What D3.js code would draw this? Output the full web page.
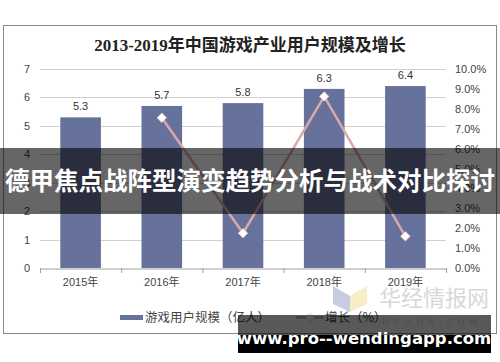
<!DOCTYPE html>
<html>
<head>
<meta charset="utf-8">
<script src="https://cdn.jsdelivr.net/npm/d3@7"></script>
<style>
  body { margin: 0; background: #fff; }
  svg { display: block; }
</style>
</head>
<body>
<svg id="chart" width="500" height="362"></svg>
<script>
const years = ["2015年", "2016年", "2017年", "2018年", "2019年"]
const users = [5.3, 5.7, 5.8, 6.3, 6.4]
const growth = [null, 7.55, 1.75, 8.62, 1.59]
const leftTicks = [0, 1, 2, 3, 4, 5, 6, 7]
const rightTicks = [0, 1, 2, 3, 4, 5, 6, 7, 8, 9, 10]

const svg = d3.select("#chart")
const sans = "'Liberation Sans', Arial, 'Noto Sans CJK SC', sans-serif"
const cjk = "'Noto Sans CJK SC', sans-serif"

// frame
svg.append("rect")
    .attr("x", 3.5).attr("y", 25.5)
    .attr("width", 493).attr("height", 308)
    .attr("fill", "#fff")
    .attr("stroke", "#8a8a8a")

svg.append("text")
    .attr("x", 250).attr("y", 51)
    .attr("text-anchor", "middle")
    .attr("font-family", "'Liberation Serif', 'Noto Sans CJK SC', serif")
    .attr("font-weight", "bold")
    .attr("font-size", 17)
    .attr("fill", "#222")
    .text("2013-2019年中国游戏产业用户规模及增长")

const x = d3.scaleBand().domain(years).range([40, 446]).paddingInner(0.5).paddingOuter(0.25)
const yL = d3.scaleLinear().domain([0, 7]).range([268, 69])
const yR = d3.scaleLinear().domain([0, 10]).range([268, 69])

// grid
svg.append("g").selectAll("line")
    .data(leftTicks.slice(1))
    .join("line")
    .attr("x1", 40).attr("x2", 446)
    .attr("y1", d => Math.round(yL(d)) + 0.5)
    .attr("y2", d => Math.round(yL(d)) + 0.5)
    .attr("stroke", "#d0d0d0")

// left axis labels
svg.append("g").selectAll("text")
    .data(leftTicks)
    .join("text")
    .attr("x", 27).attr("y", d => yL(d) + 4)
    .attr("text-anchor", "middle")
    .attr("font-family", sans).attr("font-size", 11)
    .attr("fill", "#444")
    .text(d => d)

// right axis labels
svg.append("g").selectAll("text")
    .data(rightTicks)
    .join("text")
    .attr("x", 455).attr("y", d => yR(d) + 4)
    .attr("font-family", sans).attr("font-size", 11)
    .attr("fill", "#444")
    .text(d => d.toFixed(1) + "%")

// bars
svg.append("g").selectAll("rect")
    .data(users)
    .join("rect")
    .attr("x", (d, i) => x(years[i]))
    .attr("y", d => yL(d))
    .attr("width", x.bandwidth())
    .attr("height", d => yL(0) - yL(d))
    .attr("fill", "#66729b")

svg.append("g").selectAll("text")
    .data(users)
    .join("text")
    .attr("x", (d, i) => x(years[i]) + x.bandwidth() / 2)
    .attr("y", d => yL(d) - 7)
    .attr("text-anchor", "middle")
    .attr("font-family", sans).attr("font-size", 11)
    .attr("fill", "#333")
    .text(d => d.toFixed(1))

// x axis
const xAxis = d3.axisBottom(x).tickSize(0).tickPadding(10)
const gx = svg.append("g").attr("transform", "translate(0,268.5)").call(xAxis)
gx.select(".domain").attr("stroke", "#a0a0a0")
gx.selectAll("text").attr("font-family", sans).attr("font-size", 11).attr("fill", "#444")
const step = x.step()
svg.append("g").selectAll("line")
    .data(d3.range(years.length + 1))
    .join("line")
    .attr("x1", i => 40 + i * step + 0.5).attr("x2", i => 40 + i * step + 0.5)
    .attr("y1", 268).attr("y2", 273)
    .attr("stroke", "#a0a0a0")

// growth line
const pts = growth.map((g, i) => g == null ? null : [x(years[i]) + x.bandwidth() / 2, yR(g)]).filter(p => p)
svg.append("path")
    .attr("d", d3.line()(pts))
    .attr("fill", "none")
    .attr("stroke", "#d9a9a9")
    .attr("stroke-width", 2.5)
const diamond = d3.symbol().type(d3.symbolDiamond2).size(55)
svg.append("g").selectAll("path")
    .data(pts)
    .join("path")
    .attr("transform", d => `translate(${d[0]},${d[1]})`)
    .attr("d", diamond)
    .attr("fill", "#fff")
    .attr("stroke", "#e8d0d0")

// legend
svg.append("rect").attr("x", 120).attr("y", 315).attr("width", 23).attr("height", 5).attr("fill", "#66729b")
svg.append("text").attr("x", 145).attr("y", 322)
    .attr("font-family", cjk).attr("font-size", 12.5).attr("fill", "#444")
    .text("游戏用户规模（亿人）")
svg.append("line").attr("x1", 296).attr("x2", 324).attr("y1", 317.5).attr("y2", 317.5)
    .attr("stroke", "#d9a9a9").attr("stroke-width", 2.5)
svg.append("path").attr("transform", "translate(310,317.5)").attr("d", diamond)
    .attr("fill", "#fff").attr("stroke", "#e8d0d0")
svg.append("text").attr("x", 325).attr("y", 322)
    .attr("font-family", cjk).attr("font-size", 12.5).attr("fill", "#444")
    .text("增长（%）")

// watermark
const wm = svg.append("g").attr("opacity", 0.55)
wm.append("path").attr("d", "M333,286 L350,296 L350,312 L333,304 Z").attr("fill", "#9aa5c8")
wm.append("path").attr("d", "M350,296 L367,286 L367,304 L350,312 Z").attr("fill", "#f1e09a")
wm.append("text").attr("x", 379).attr("y", 306)
    .attr("font-family", "'Noto Sans CJK SC', serif").attr("font-size", 22).attr("fill", "#b8b8b8")
    .text("华经情报网")
wm.append("text").attr("x", 382).attr("y", 325)
    .attr("font-family", "'Liberation Serif', serif").attr("font-size", 9).attr("letter-spacing", 5)
    .attr("fill", "#b8b8b8")
    .text("HUAON.COM")

// overlay banner
svg.append("rect").attr("x", 0).attr("y", 148).attr("width", 500).attr("height", 66)
    .attr("fill", "#000").attr("opacity", 0.6)
svg.append("text").attr("x", 250).attr("y", 190)
    .attr("text-anchor", "middle")
    .attr("font-family", cjk).attr("font-weight", "bold").attr("font-size", 24.5)
    .attr("fill", "#fff")
    .text("德甲焦点战阵型演变趋势分析与战术对比探讨")

// url box
svg.append("rect").attr("x", 238).attr("y", 315).attr("width", 253).attr("height", 20)
    .attr("fill", "#000").attr("opacity", 0.65)
svg.append("rect").attr("x", 238).attr("y", 335).attr("width", 253).attr("height", 18)
    .attr("fill", "#000")
svg.append("text").attr("x", 364).attr("y", 344)
    .attr("text-anchor", "middle")
    .attr("font-family", "'DejaVu Sans', sans-serif").attr("font-weight", "bold").attr("font-size", 16.5)
    .attr("fill", "#fff")
    .text("www.pro--wendingapp.com")
</script>
</body>
</html>
